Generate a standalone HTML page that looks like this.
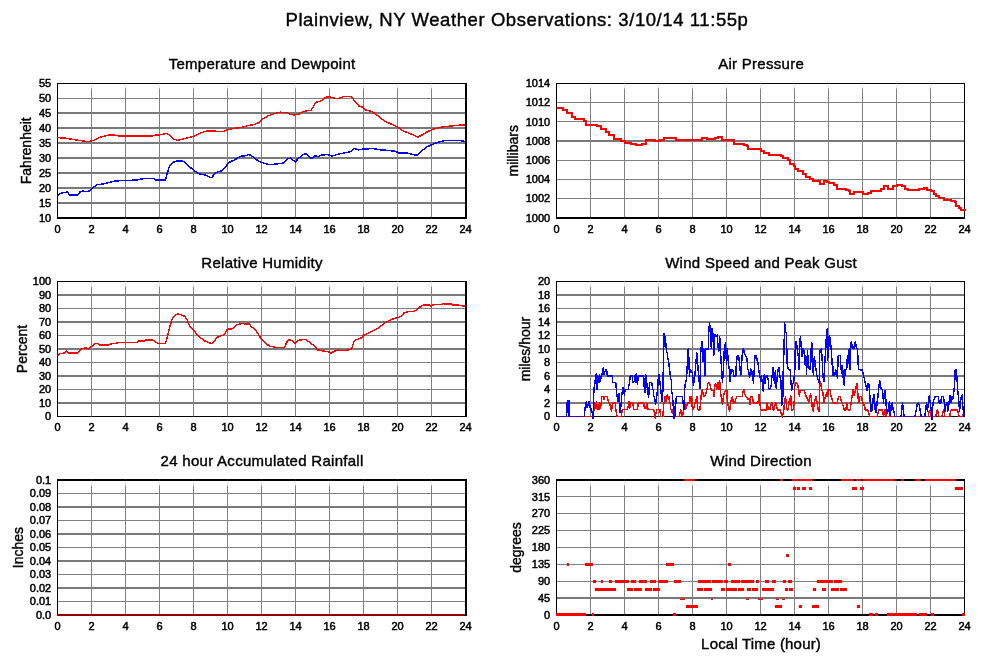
<!DOCTYPE html>
<html><head><meta charset="utf-8"><title>Plainview, NY Weather Observations</title>
<style>
html,body{margin:0;padding:0;background:#fff;}
body{width:999px;height:659px;overflow:hidden;font-family:"Liberation Sans",sans-serif;}
svg{display:block;will-change:transform;transform:translateZ(0)}
text{font-family:"Liberation Sans",sans-serif;fill:#000;stroke:#000}
.tk{font-size:11px;stroke-width:0.5px}
.pt{font-size:15px;letter-spacing:0.28px;stroke-width:0.4px}
.xl{font-size:15px;letter-spacing:0.19px;stroke-width:0.4px}
.yl{font-size:14px;stroke-width:0.4px}
.ttl{font-size:18.5px;letter-spacing:0.58px;stroke-width:0.4px}
.r2{stroke:#ff0000;fill:none;stroke-width:2;stroke-linejoin:miter;shape-rendering:crispEdges}
.g{stroke:#808080;stroke-width:1}
.ax{stroke:#000;fill:none}
.r{stroke:#ff0000;fill:none;stroke-width:1.45;stroke-linejoin:round;shape-rendering:crispEdges}
.b{stroke:#0000ff;fill:none;stroke-width:1.45;stroke-linejoin:round;shape-rendering:crispEdges}
</style></head><body>
<svg width="999" height="659" viewBox="0 0 999 659">
<rect width="999" height="659" fill="#fff"/>
<text class="ttl" x="517" y="25.8" text-anchor="middle">Plainview, NY Weather Observations: 3/10/14 11:55p</text>
<rect x="57.5" y="202" width="408" height="2" fill="#797979"/>
<rect x="57.5" y="187" width="408" height="2" fill="#797979"/>
<rect x="57.5" y="172" width="408" height="2" fill="#797979"/>
<rect x="57.5" y="157" width="408" height="2" fill="#797979"/>
<rect x="57.5" y="142" width="408" height="2" fill="#797979"/>
<rect x="57.5" y="127" width="408" height="2" fill="#797979"/>
<rect x="57.5" y="112" width="408" height="2" fill="#797979"/>
<rect x="57.5" y="98" width="408" height="1" fill="#808080"/>
<line class="g" x1="91.5" x2="91.5" y1="83.5" y2="218.0"/>
<line x1="91.5" x2="91.5" y1="84" y2="88.6" stroke="#e4e4e4" stroke-width="1"/>
<line class="g" x1="125.5" x2="125.5" y1="83.5" y2="218.0"/>
<line x1="125.5" x2="125.5" y1="84" y2="88.6" stroke="#e4e4e4" stroke-width="1"/>
<line class="g" x1="159.5" x2="159.5" y1="83.5" y2="218.0"/>
<line x1="159.5" x2="159.5" y1="84" y2="88.6" stroke="#e4e4e4" stroke-width="1"/>
<line class="g" x1="193.5" x2="193.5" y1="83.5" y2="218.0"/>
<line x1="193.5" x2="193.5" y1="84" y2="88.6" stroke="#e4e4e4" stroke-width="1"/>
<line class="g" x1="227.5" x2="227.5" y1="83.5" y2="218.0"/>
<line x1="227.5" x2="227.5" y1="84" y2="88.6" stroke="#e4e4e4" stroke-width="1"/>
<line class="g" x1="261.5" x2="261.5" y1="83.5" y2="218.0"/>
<line x1="261.5" x2="261.5" y1="84" y2="88.6" stroke="#e4e4e4" stroke-width="1"/>
<line class="g" x1="295.5" x2="295.5" y1="83.5" y2="218.0"/>
<line x1="295.5" x2="295.5" y1="84" y2="88.6" stroke="#e4e4e4" stroke-width="1"/>
<line class="g" x1="329.5" x2="329.5" y1="83.5" y2="218.0"/>
<line x1="329.5" x2="329.5" y1="84" y2="88.6" stroke="#e4e4e4" stroke-width="1"/>
<line class="g" x1="363.5" x2="363.5" y1="83.5" y2="218.0"/>
<line x1="363.5" x2="363.5" y1="84" y2="88.6" stroke="#e4e4e4" stroke-width="1"/>
<line class="g" x1="397.5" x2="397.5" y1="83.5" y2="218.0"/>
<line x1="397.5" x2="397.5" y1="84" y2="88.6" stroke="#e4e4e4" stroke-width="1"/>
<line class="g" x1="431.5" x2="431.5" y1="83.5" y2="218.0"/>
<line x1="431.5" x2="431.5" y1="84" y2="88.6" stroke="#e4e4e4" stroke-width="1"/>
<line class="ax" x1="57.0" x2="467" y1="83.5" y2="83.5" stroke-width="1"/>
<line class="ax" x1="57.0" x2="467" y1="218.0" y2="218.0" stroke-width="2"/>
<line class="ax" x1="57.5" x2="57.5" y1="83" y2="219" stroke-width="1"/>
<line class="ax" x1="466" x2="466" y1="83" y2="219" stroke-width="2"/>
<rect x="91.0" y="83" width="1" height="1" fill="#4a4a4a"/>
<rect x="91.0" y="217.5" width="1" height="1" fill="#303030"/>
<rect x="125.0" y="83" width="1" height="1" fill="#4a4a4a"/>
<rect x="125.0" y="217.5" width="1" height="1" fill="#303030"/>
<rect x="159.0" y="83" width="1" height="1" fill="#4a4a4a"/>
<rect x="159.0" y="217.5" width="1" height="1" fill="#303030"/>
<rect x="193.0" y="83" width="1" height="1" fill="#4a4a4a"/>
<rect x="193.0" y="217.5" width="1" height="1" fill="#303030"/>
<rect x="227.0" y="83" width="1" height="1" fill="#4a4a4a"/>
<rect x="227.0" y="217.5" width="1" height="1" fill="#303030"/>
<rect x="261.0" y="83" width="1" height="1" fill="#4a4a4a"/>
<rect x="261.0" y="217.5" width="1" height="1" fill="#303030"/>
<rect x="295.0" y="83" width="1" height="1" fill="#4a4a4a"/>
<rect x="295.0" y="217.5" width="1" height="1" fill="#303030"/>
<rect x="329.0" y="83" width="1" height="1" fill="#4a4a4a"/>
<rect x="329.0" y="217.5" width="1" height="1" fill="#303030"/>
<rect x="363.0" y="83" width="1" height="1" fill="#4a4a4a"/>
<rect x="363.0" y="217.5" width="1" height="1" fill="#303030"/>
<rect x="397.0" y="83" width="1" height="1" fill="#4a4a4a"/>
<rect x="397.0" y="217.5" width="1" height="1" fill="#303030"/>
<rect x="431.0" y="83" width="1" height="1" fill="#4a4a4a"/>
<rect x="431.0" y="217.5" width="1" height="1" fill="#303030"/>
<path class="b" d="M57.5,196.48 L60.05,193.79 L62.6,192.89 L66,192.15 L67.7,192.15 L69.4,194.99 L77.9,194.99 L79.6,192.15 L83,191.1 L88.1,191.7 L91.5,189.01 L96.6,184.82 L103.4,183.93 L108.5,182.73 L115.3,180.94 L125.5,180.49 L137.4,180.04 L140.8,179.14 L145.9,178.25 L152.7,178.25 L156.1,180.04 L165.45,180.04 L167.15,173.76 L169.7,165.4 L173.1,162.41 L176.5,161.21 L183.3,161.21 L186.7,164.2 L190.1,167.19 L193.5,170.18 L198.6,173.76 L205.4,174.96 L210.5,177.65 L212.2,177.05 L215.6,172.57 L222.4,170.48 L225.8,167.19 L228.35,162.71 L234.3,160.02 L241.1,156.13 L246.2,155.68 L248.75,154.34 L253,156.73 L258.1,160.91 L263.2,163 L270,164.8 L276.8,163.9 L283.6,163 L287.85,158.52 L290.4,158.22 L293.8,160.61 L295.5,162.11 L298.05,158.52 L304,154.04 L306.55,154.04 L310.8,157.92 L312.5,158.07 L315.05,155.68 L317.6,156.73 L321,155.23 L326.1,154.64 L329.5,154.93 L332.05,156.13 L338,154.19 L346.5,152.54 L351.6,151.35 L354.15,148.36 L358.4,149.85 L363.5,148.96 L373.7,148.66 L380.5,149.85 L389,150.45 L395.8,151.35 L399.2,153.14 L407.7,153.14 L414.5,154.93 L417.05,155.08 L421.3,151.35 L426.4,147.16 L433.2,144.02 L440,141.78 L445.1,140.59 L453.6,140.44 L460.4,140.59 L465.5,141.48"/>
<path class="r" d="M57.5,137.6 L66,138.2 L74.5,139.69 L83,140.89 L87.25,141.78 L93.2,140.59 L100,137.3 L108.5,135.21 L115.3,135.21 L118.7,135.95 L152.7,135.95 L155.25,135.21 L161.2,134.61 L166.3,133.41 L169.7,134.91 L173.1,138.79 L177.35,140.29 L181.6,139.39 L188.4,137.6 L193.5,136.4 L200.3,133.12 L207.1,130.87 L213.9,130.87 L219,131.62 L224.1,131.32 L227.5,129.83 L234.3,128.33 L241.1,127.44 L247.9,125.64 L254.7,124.45 L258.1,122.95 L261.5,119.67 L268.3,115.78 L275.1,113.39 L280.2,112.19 L287,112.49 L289.55,114.29 L293.8,114.88 L298.9,114.14 L302.3,111.89 L307.4,110.7 L310.8,110.7 L313.35,106.81 L315.9,102.33 L321,100.84 L326.1,97.25 L329.5,96.65 L336.3,98.74 L339.7,98.15 L343.1,96.65 L351.6,96.65 L355,101.88 L359.25,106.22 L362.65,107.11 L365.2,109.8 L372,111.6 L377.1,115.18 L383.9,120.56 L390.7,123.85 L397.5,126.84 L402.6,130.72 L409.4,133.41 L414.5,135.51 L417.9,137 L423,134.46 L428.1,131.32 L434.9,128.63 L441.7,127.14 L448.5,126.24 L457,125.34 L465.5,124.75"/>
<text class="tk" x="51.2" y="221.7" text-anchor="end">10</text>
<text class="tk" x="51.2" y="206.76" text-anchor="end">15</text>
<text class="tk" x="51.2" y="191.81" text-anchor="end">20</text>
<text class="tk" x="51.2" y="176.87" text-anchor="end">25</text>
<text class="tk" x="51.2" y="161.92" text-anchor="end">30</text>
<text class="tk" x="51.2" y="146.98" text-anchor="end">35</text>
<text class="tk" x="51.2" y="132.03" text-anchor="end">40</text>
<text class="tk" x="51.2" y="117.09" text-anchor="end">45</text>
<text class="tk" x="51.2" y="102.14" text-anchor="end">50</text>
<text class="tk" x="51.2" y="87.2" text-anchor="end">55</text>
<text class="tk" x="57.5" y="232.8" text-anchor="middle">0</text>
<text class="tk" x="91.5" y="232.8" text-anchor="middle">2</text>
<text class="tk" x="125.5" y="232.8" text-anchor="middle">4</text>
<text class="tk" x="159.5" y="232.8" text-anchor="middle">6</text>
<text class="tk" x="193.5" y="232.8" text-anchor="middle">8</text>
<text class="tk" x="227.5" y="232.8" text-anchor="middle">10</text>
<text class="tk" x="261.5" y="232.8" text-anchor="middle">12</text>
<text class="tk" x="295.5" y="232.8" text-anchor="middle">14</text>
<text class="tk" x="329.5" y="232.8" text-anchor="middle">16</text>
<text class="tk" x="363.5" y="232.8" text-anchor="middle">18</text>
<text class="tk" x="397.5" y="232.8" text-anchor="middle">20</text>
<text class="tk" x="431.5" y="232.8" text-anchor="middle">22</text>
<text class="tk" x="465.5" y="232.8" text-anchor="middle">24</text>
<text class="pt" x="262.1" y="68.8" text-anchor="middle">Temperature and Dewpoint</text>
<text class="yl" transform="translate(31.2,150.75) rotate(-90)" text-anchor="middle">Fahrenheit</text>
<rect x="556.5" y="198" width="408" height="1" fill="#808080"/>
<rect x="556.5" y="179" width="408" height="1" fill="#808080"/>
<rect x="556.5" y="160" width="408" height="1" fill="#808080"/>
<rect x="556.5" y="140" width="408" height="2" fill="#797979"/>
<rect x="556.5" y="121" width="408" height="1" fill="#808080"/>
<rect x="556.5" y="102" width="408" height="1" fill="#808080"/>
<line class="g" x1="590.5" x2="590.5" y1="83.5" y2="218.0"/>
<line x1="590.5" x2="590.5" y1="84" y2="88.6" stroke="#e4e4e4" stroke-width="1"/>
<line class="g" x1="624.5" x2="624.5" y1="83.5" y2="218.0"/>
<line x1="624.5" x2="624.5" y1="84" y2="88.6" stroke="#e4e4e4" stroke-width="1"/>
<line class="g" x1="658.5" x2="658.5" y1="83.5" y2="218.0"/>
<line x1="658.5" x2="658.5" y1="84" y2="88.6" stroke="#e4e4e4" stroke-width="1"/>
<line class="g" x1="692.5" x2="692.5" y1="83.5" y2="218.0"/>
<line x1="692.5" x2="692.5" y1="84" y2="88.6" stroke="#e4e4e4" stroke-width="1"/>
<line class="g" x1="726.5" x2="726.5" y1="83.5" y2="218.0"/>
<line x1="726.5" x2="726.5" y1="84" y2="88.6" stroke="#e4e4e4" stroke-width="1"/>
<line class="g" x1="760.5" x2="760.5" y1="83.5" y2="218.0"/>
<line x1="760.5" x2="760.5" y1="84" y2="88.6" stroke="#e4e4e4" stroke-width="1"/>
<line class="g" x1="794.5" x2="794.5" y1="83.5" y2="218.0"/>
<line x1="794.5" x2="794.5" y1="84" y2="88.6" stroke="#e4e4e4" stroke-width="1"/>
<line class="g" x1="828.5" x2="828.5" y1="83.5" y2="218.0"/>
<line x1="828.5" x2="828.5" y1="84" y2="88.6" stroke="#e4e4e4" stroke-width="1"/>
<line class="g" x1="862.5" x2="862.5" y1="83.5" y2="218.0"/>
<line x1="862.5" x2="862.5" y1="84" y2="88.6" stroke="#e4e4e4" stroke-width="1"/>
<line class="g" x1="896.5" x2="896.5" y1="83.5" y2="218.0"/>
<line x1="896.5" x2="896.5" y1="84" y2="88.6" stroke="#e4e4e4" stroke-width="1"/>
<line class="g" x1="930.5" x2="930.5" y1="83.5" y2="218.0"/>
<line x1="930.5" x2="930.5" y1="84" y2="88.6" stroke="#e4e4e4" stroke-width="1"/>
<line class="ax" x1="556.0" x2="965" y1="83.5" y2="83.5" stroke-width="1"/>
<line class="ax" x1="556.0" x2="965" y1="218.0" y2="218.0" stroke-width="2"/>
<line class="ax" x1="556.5" x2="556.5" y1="83" y2="219" stroke-width="1"/>
<line class="ax" x1="964.5" x2="964.5" y1="83" y2="219" stroke-width="1"/>
<rect x="590.0" y="83" width="1" height="1" fill="#4a4a4a"/>
<rect x="590.0" y="217.5" width="1" height="1" fill="#303030"/>
<rect x="624.0" y="83" width="1" height="1" fill="#4a4a4a"/>
<rect x="624.0" y="217.5" width="1" height="1" fill="#303030"/>
<rect x="658.0" y="83" width="1" height="1" fill="#4a4a4a"/>
<rect x="658.0" y="217.5" width="1" height="1" fill="#303030"/>
<rect x="692.0" y="83" width="1" height="1" fill="#4a4a4a"/>
<rect x="692.0" y="217.5" width="1" height="1" fill="#303030"/>
<rect x="726.0" y="83" width="1" height="1" fill="#4a4a4a"/>
<rect x="726.0" y="217.5" width="1" height="1" fill="#303030"/>
<rect x="760.0" y="83" width="1" height="1" fill="#4a4a4a"/>
<rect x="760.0" y="217.5" width="1" height="1" fill="#303030"/>
<rect x="794.0" y="83" width="1" height="1" fill="#4a4a4a"/>
<rect x="794.0" y="217.5" width="1" height="1" fill="#303030"/>
<rect x="828.0" y="83" width="1" height="1" fill="#4a4a4a"/>
<rect x="828.0" y="217.5" width="1" height="1" fill="#303030"/>
<rect x="862.0" y="83" width="1" height="1" fill="#4a4a4a"/>
<rect x="862.0" y="217.5" width="1" height="1" fill="#303030"/>
<rect x="896.0" y="83" width="1" height="1" fill="#4a4a4a"/>
<rect x="896.0" y="217.5" width="1" height="1" fill="#303030"/>
<rect x="930.0" y="83" width="1" height="1" fill="#4a4a4a"/>
<rect x="930.0" y="217.5" width="1" height="1" fill="#303030"/>
<path class="r2" d="M556.5,108 H563.3 V110.4 H566.7 V113.28 H571.8 V116.64 H575.2 V118.57 H583.7 V120.97 H586.25 V124.81 H597.3 V125.77 H600.7 V128.65 H605.8 V132.02 H609.2 V135.38 H614.3 V138.74 H621.1 V140.66 H624.5 V143.06 H631.3 V144.02 H636.4 V145.47 H640.65 V145.47 H641.5 V143.54 H644.9 V143.54 H645.75 V140.18 H653.4 V140.18 H655.1 V141.14 H658.5 V141.14 H660.2 V139.7 H663.6 V138.26 H673.8 V138.26 H675.5 V140.18 H692.5 V140.18 H701 V140.18 H701.85 V137.97 H706.1 V137.97 H706.95 V139.22 H712.9 V139.22 H714.6 V137.97 H718 V137.3 H721.4 V137.3 H722.25 V139.7 H729.9 V140.18 H734.15 V144.02 H743.5 V144.51 H746.9 V145.95 H747.75 V149.31 H752 V149.31 H753.7 V148.83 H758.8 V149.31 H760.5 V150.75 H763.9 V152.67 H769 V155.07 H780.9 V155.55 H782.6 V157.96 H787.7 V160.36 H790.25 V164.2 H793.65 V165.64 H794.5 V169.48 H797.9 V171.41 H803 V173.81 H806.4 V176.69 H809.8 V179.09 H813.2 V180.53 H818.3 V181.49 H820 V184.38 H823.4 V184.38 H824.25 V181.49 H826.8 V181.97 H828.5 V182.93 H833.6 V184.86 H837 V189.18 H845.5 V189.66 H848.9 V190.62 H849.75 V194.46 H853.15 V194.46 H854 V191.58 H860.8 V191.58 H862.5 V193.5 H864.2 V194.46 H867.6 V193.02 H871 V191.1 H877.8 V190.62 H881.2 V189.18 H883.75 V186.3 H887.15 V186.3 H888 V188.7 H891.4 V188.7 H893.1 V186.3 H896.5 V185.34 H901.6 V185.82 H905 V189.18 H908.4 V190.14 H916.9 V190.14 H918.6 V188.7 H923.7 V187.74 H927.1 V190.14 H930.5 V191.1 H933.9 V193.98 H935.6 V195.9 H939 V198.31 H944.1 V199.75 H950.9 V200.71 H955.15 V201.67 H956 V205.51 H959.4 V207.91 H961.1 V210.31 H964.5 V210.79"/>
<text class="tk" x="550.2" y="221.7" text-anchor="end">1000</text>
<text class="tk" x="550.2" y="202.49" text-anchor="end">1002</text>
<text class="tk" x="550.2" y="183.27" text-anchor="end">1004</text>
<text class="tk" x="550.2" y="164.06" text-anchor="end">1006</text>
<text class="tk" x="550.2" y="144.84" text-anchor="end">1008</text>
<text class="tk" x="550.2" y="125.63" text-anchor="end">1010</text>
<text class="tk" x="550.2" y="106.41" text-anchor="end">1012</text>
<text class="tk" x="550.2" y="87.2" text-anchor="end">1014</text>
<text class="tk" x="556.5" y="232.8" text-anchor="middle">0</text>
<text class="tk" x="590.5" y="232.8" text-anchor="middle">2</text>
<text class="tk" x="624.5" y="232.8" text-anchor="middle">4</text>
<text class="tk" x="658.5" y="232.8" text-anchor="middle">6</text>
<text class="tk" x="692.5" y="232.8" text-anchor="middle">8</text>
<text class="tk" x="726.5" y="232.8" text-anchor="middle">10</text>
<text class="tk" x="760.5" y="232.8" text-anchor="middle">12</text>
<text class="tk" x="794.5" y="232.8" text-anchor="middle">14</text>
<text class="tk" x="828.5" y="232.8" text-anchor="middle">16</text>
<text class="tk" x="862.5" y="232.8" text-anchor="middle">18</text>
<text class="tk" x="896.5" y="232.8" text-anchor="middle">20</text>
<text class="tk" x="930.5" y="232.8" text-anchor="middle">22</text>
<text class="tk" x="964.5" y="232.8" text-anchor="middle">24</text>
<text class="pt" x="761.1" y="68.8" text-anchor="middle">Air Pressure</text>
<text class="yl" transform="translate(518.2,150.75) rotate(-90)" text-anchor="middle">millibars</text>
<rect x="57.5" y="402" width="408" height="2" fill="#797979"/>
<rect x="57.5" y="389" width="408" height="1" fill="#808080"/>
<rect x="57.5" y="375" width="408" height="2" fill="#797979"/>
<rect x="57.5" y="362" width="408" height="1" fill="#808080"/>
<rect x="57.5" y="348" width="408" height="2" fill="#797979"/>
<rect x="57.5" y="335" width="408" height="1" fill="#808080"/>
<rect x="57.5" y="321" width="408" height="2" fill="#797979"/>
<rect x="57.5" y="308" width="408" height="1" fill="#808080"/>
<rect x="57.5" y="294" width="408" height="2" fill="#797979"/>
<line class="g" x1="91.5" x2="91.5" y1="281.5" y2="416.5"/>
<line x1="91.5" x2="91.5" y1="282" y2="286.6" stroke="#e4e4e4" stroke-width="1"/>
<line class="g" x1="125.5" x2="125.5" y1="281.5" y2="416.5"/>
<line x1="125.5" x2="125.5" y1="282" y2="286.6" stroke="#e4e4e4" stroke-width="1"/>
<line class="g" x1="159.5" x2="159.5" y1="281.5" y2="416.5"/>
<line x1="159.5" x2="159.5" y1="282" y2="286.6" stroke="#e4e4e4" stroke-width="1"/>
<line class="g" x1="193.5" x2="193.5" y1="281.5" y2="416.5"/>
<line x1="193.5" x2="193.5" y1="282" y2="286.6" stroke="#e4e4e4" stroke-width="1"/>
<line class="g" x1="227.5" x2="227.5" y1="281.5" y2="416.5"/>
<line x1="227.5" x2="227.5" y1="282" y2="286.6" stroke="#e4e4e4" stroke-width="1"/>
<line class="g" x1="261.5" x2="261.5" y1="281.5" y2="416.5"/>
<line x1="261.5" x2="261.5" y1="282" y2="286.6" stroke="#e4e4e4" stroke-width="1"/>
<line class="g" x1="295.5" x2="295.5" y1="281.5" y2="416.5"/>
<line x1="295.5" x2="295.5" y1="282" y2="286.6" stroke="#e4e4e4" stroke-width="1"/>
<line class="g" x1="329.5" x2="329.5" y1="281.5" y2="416.5"/>
<line x1="329.5" x2="329.5" y1="282" y2="286.6" stroke="#e4e4e4" stroke-width="1"/>
<line class="g" x1="363.5" x2="363.5" y1="281.5" y2="416.5"/>
<line x1="363.5" x2="363.5" y1="282" y2="286.6" stroke="#e4e4e4" stroke-width="1"/>
<line class="g" x1="397.5" x2="397.5" y1="281.5" y2="416.5"/>
<line x1="397.5" x2="397.5" y1="282" y2="286.6" stroke="#e4e4e4" stroke-width="1"/>
<line class="g" x1="431.5" x2="431.5" y1="281.5" y2="416.5"/>
<line x1="431.5" x2="431.5" y1="282" y2="286.6" stroke="#e4e4e4" stroke-width="1"/>
<line class="ax" x1="57.0" x2="467" y1="281.5" y2="281.5" stroke-width="1"/>
<line class="ax" x1="57.0" x2="467" y1="416.5" y2="416.5" stroke-width="1"/>
<line class="ax" x1="57.5" x2="57.5" y1="281" y2="417" stroke-width="1"/>
<line class="ax" x1="466" x2="466" y1="281" y2="417" stroke-width="2"/>
<rect x="91.0" y="281" width="1" height="1" fill="#4a4a4a"/>
<rect x="91.0" y="416" width="1" height="1" fill="#303030"/>
<rect x="125.0" y="281" width="1" height="1" fill="#4a4a4a"/>
<rect x="125.0" y="416" width="1" height="1" fill="#303030"/>
<rect x="159.0" y="281" width="1" height="1" fill="#4a4a4a"/>
<rect x="159.0" y="416" width="1" height="1" fill="#303030"/>
<rect x="193.0" y="281" width="1" height="1" fill="#4a4a4a"/>
<rect x="193.0" y="416" width="1" height="1" fill="#303030"/>
<rect x="227.0" y="281" width="1" height="1" fill="#4a4a4a"/>
<rect x="227.0" y="416" width="1" height="1" fill="#303030"/>
<rect x="261.0" y="281" width="1" height="1" fill="#4a4a4a"/>
<rect x="261.0" y="416" width="1" height="1" fill="#303030"/>
<rect x="295.0" y="281" width="1" height="1" fill="#4a4a4a"/>
<rect x="295.0" y="416" width="1" height="1" fill="#303030"/>
<rect x="329.0" y="281" width="1" height="1" fill="#4a4a4a"/>
<rect x="329.0" y="416" width="1" height="1" fill="#303030"/>
<rect x="363.0" y="281" width="1" height="1" fill="#4a4a4a"/>
<rect x="363.0" y="416" width="1" height="1" fill="#303030"/>
<rect x="397.0" y="281" width="1" height="1" fill="#4a4a4a"/>
<rect x="397.0" y="416" width="1" height="1" fill="#303030"/>
<rect x="431.0" y="281" width="1" height="1" fill="#4a4a4a"/>
<rect x="431.0" y="416" width="1" height="1" fill="#303030"/>
<path class="r" d="M57.5,355.75 L60.05,353.73 L64.3,353.05 L66.85,350.89 L68.55,353.05 L77.9,353.05 L80.45,349.81 L83,348.32 L86.4,347.92 L88.1,349 L90.65,346.7 L93.2,345.76 L94.9,343.74 L98.3,343.74 L100,345.22 L108.5,345.22 L110.2,344.14 L117,343.06 L118.7,342.38 L137.4,342.38 L139.1,340.9 L144.2,340.9 L145.9,339.82 L152.7,339.82 L156.1,342.38 L158.65,343.46 L165.45,343.46 L167.15,337.8 L169.7,327.13 L172.25,318.62 L174.8,315.38 L178.2,313.9 L181.6,314.98 L185,316.47 L187.55,320.78 L190.1,326.73 L193.5,330.1 L198.6,336.18 L203.7,340.36 L208.8,342.79 L212.2,343.6 L217.3,337.25 L224.1,334.69 L227.5,329.29 L232.6,328.75 L236,325.11 L241.1,323.62 L249.6,324.02 L251.3,326.73 L254.7,328.75 L258.1,334.01 L261.5,339.28 L266.6,344.14 L270,346.3 L276.8,347.51 L284.45,347.51 L287,341.98 L288.7,339.95 L292.1,340.36 L295.5,343.6 L298.05,340.36 L305.7,339.28 L309.1,341.98 L314.2,345.76 L317.6,349.81 L322.7,350.89 L327.8,351.56 L329.5,352.24 L331.2,353.05 L334.6,351.16 L338,349.68 L339.7,350.49 L346.5,350.49 L351.6,348.73 L354.15,340.9 L356.7,339.55 L361.8,337.8 L363.5,335.23 L368.6,332.94 L373.7,330.37 L378.8,327.67 L383.9,323.62 L387.3,321.46 L392.4,319.17 L397.5,317.68 L400.9,316.6 L404.3,312.69 L407.7,311.74 L414.5,311.2 L417.9,308.77 L421.3,305.94 L423.85,304.86 L428.95,304.86 L430.65,306.34 L432.35,304.86 L441.7,304.45 L443.4,303.5 L445.1,304.05 L451.05,303.91 L452.75,304.86 L458.7,305.12 L462.1,305.8 L465.5,305.94"/>
<text class="tk" x="51.2" y="420.2" text-anchor="end">0</text>
<text class="tk" x="51.2" y="406.7" text-anchor="end">10</text>
<text class="tk" x="51.2" y="393.2" text-anchor="end">20</text>
<text class="tk" x="51.2" y="379.7" text-anchor="end">30</text>
<text class="tk" x="51.2" y="366.2" text-anchor="end">40</text>
<text class="tk" x="51.2" y="352.7" text-anchor="end">50</text>
<text class="tk" x="51.2" y="339.2" text-anchor="end">60</text>
<text class="tk" x="51.2" y="325.7" text-anchor="end">70</text>
<text class="tk" x="51.2" y="312.2" text-anchor="end">80</text>
<text class="tk" x="51.2" y="298.7" text-anchor="end">90</text>
<text class="tk" x="51.2" y="285.2" text-anchor="end">100</text>
<text class="tk" x="57.5" y="431.3" text-anchor="middle">0</text>
<text class="tk" x="91.5" y="431.3" text-anchor="middle">2</text>
<text class="tk" x="125.5" y="431.3" text-anchor="middle">4</text>
<text class="tk" x="159.5" y="431.3" text-anchor="middle">6</text>
<text class="tk" x="193.5" y="431.3" text-anchor="middle">8</text>
<text class="tk" x="227.5" y="431.3" text-anchor="middle">10</text>
<text class="tk" x="261.5" y="431.3" text-anchor="middle">12</text>
<text class="tk" x="295.5" y="431.3" text-anchor="middle">14</text>
<text class="tk" x="329.5" y="431.3" text-anchor="middle">16</text>
<text class="tk" x="363.5" y="431.3" text-anchor="middle">18</text>
<text class="tk" x="397.5" y="431.3" text-anchor="middle">20</text>
<text class="tk" x="431.5" y="431.3" text-anchor="middle">22</text>
<text class="tk" x="465.5" y="431.3" text-anchor="middle">24</text>
<text class="pt" x="262.1" y="267.6" text-anchor="middle">Relative Humidity</text>
<text class="yl" transform="translate(27.0,349) rotate(-90)" text-anchor="middle">Percent</text>
<rect x="556.5" y="402" width="408" height="2" fill="#797979"/>
<rect x="556.5" y="389" width="408" height="1" fill="#808080"/>
<rect x="556.5" y="375" width="408" height="2" fill="#797979"/>
<rect x="556.5" y="362" width="408" height="1" fill="#808080"/>
<rect x="556.5" y="348" width="408" height="2" fill="#797979"/>
<rect x="556.5" y="335" width="408" height="1" fill="#808080"/>
<rect x="556.5" y="321" width="408" height="2" fill="#797979"/>
<rect x="556.5" y="308" width="408" height="1" fill="#808080"/>
<rect x="556.5" y="294" width="408" height="2" fill="#797979"/>
<line class="g" x1="590.5" x2="590.5" y1="281.5" y2="416.5"/>
<line x1="590.5" x2="590.5" y1="282" y2="286.6" stroke="#e4e4e4" stroke-width="1"/>
<line class="g" x1="624.5" x2="624.5" y1="281.5" y2="416.5"/>
<line x1="624.5" x2="624.5" y1="282" y2="286.6" stroke="#e4e4e4" stroke-width="1"/>
<line class="g" x1="658.5" x2="658.5" y1="281.5" y2="416.5"/>
<line x1="658.5" x2="658.5" y1="282" y2="286.6" stroke="#e4e4e4" stroke-width="1"/>
<line class="g" x1="692.5" x2="692.5" y1="281.5" y2="416.5"/>
<line x1="692.5" x2="692.5" y1="282" y2="286.6" stroke="#e4e4e4" stroke-width="1"/>
<line class="g" x1="726.5" x2="726.5" y1="281.5" y2="416.5"/>
<line x1="726.5" x2="726.5" y1="282" y2="286.6" stroke="#e4e4e4" stroke-width="1"/>
<line class="g" x1="760.5" x2="760.5" y1="281.5" y2="416.5"/>
<line x1="760.5" x2="760.5" y1="282" y2="286.6" stroke="#e4e4e4" stroke-width="1"/>
<line class="g" x1="794.5" x2="794.5" y1="281.5" y2="416.5"/>
<line x1="794.5" x2="794.5" y1="282" y2="286.6" stroke="#e4e4e4" stroke-width="1"/>
<line class="g" x1="828.5" x2="828.5" y1="281.5" y2="416.5"/>
<line x1="828.5" x2="828.5" y1="282" y2="286.6" stroke="#e4e4e4" stroke-width="1"/>
<line class="g" x1="862.5" x2="862.5" y1="281.5" y2="416.5"/>
<line x1="862.5" x2="862.5" y1="282" y2="286.6" stroke="#e4e4e4" stroke-width="1"/>
<line class="g" x1="896.5" x2="896.5" y1="281.5" y2="416.5"/>
<line x1="896.5" x2="896.5" y1="282" y2="286.6" stroke="#e4e4e4" stroke-width="1"/>
<line class="g" x1="930.5" x2="930.5" y1="281.5" y2="416.5"/>
<line x1="930.5" x2="930.5" y1="282" y2="286.6" stroke="#e4e4e4" stroke-width="1"/>
<line class="ax" x1="556.0" x2="965" y1="281.5" y2="281.5" stroke-width="1"/>
<line class="ax" x1="556.0" x2="965" y1="416.5" y2="416.5" stroke-width="1"/>
<line class="ax" x1="556.5" x2="556.5" y1="281" y2="417" stroke-width="1"/>
<line class="ax" x1="964.5" x2="964.5" y1="281" y2="417" stroke-width="1"/>
<rect x="590.0" y="281" width="1" height="1" fill="#4a4a4a"/>
<rect x="590.0" y="416" width="1" height="1" fill="#303030"/>
<rect x="624.0" y="281" width="1" height="1" fill="#4a4a4a"/>
<rect x="624.0" y="416" width="1" height="1" fill="#303030"/>
<rect x="658.0" y="281" width="1" height="1" fill="#4a4a4a"/>
<rect x="658.0" y="416" width="1" height="1" fill="#303030"/>
<rect x="692.0" y="281" width="1" height="1" fill="#4a4a4a"/>
<rect x="692.0" y="416" width="1" height="1" fill="#303030"/>
<rect x="726.0" y="281" width="1" height="1" fill="#4a4a4a"/>
<rect x="726.0" y="416" width="1" height="1" fill="#303030"/>
<rect x="760.0" y="281" width="1" height="1" fill="#4a4a4a"/>
<rect x="760.0" y="416" width="1" height="1" fill="#303030"/>
<rect x="794.0" y="281" width="1" height="1" fill="#4a4a4a"/>
<rect x="794.0" y="416" width="1" height="1" fill="#303030"/>
<rect x="828.0" y="281" width="1" height="1" fill="#4a4a4a"/>
<rect x="828.0" y="416" width="1" height="1" fill="#303030"/>
<rect x="862.0" y="281" width="1" height="1" fill="#4a4a4a"/>
<rect x="862.0" y="416" width="1" height="1" fill="#303030"/>
<rect x="896.0" y="281" width="1" height="1" fill="#4a4a4a"/>
<rect x="896.0" y="416" width="1" height="1" fill="#303030"/>
<rect x="930.0" y="281" width="1" height="1" fill="#4a4a4a"/>
<rect x="930.0" y="416" width="1" height="1" fill="#303030"/>
<path class="r" d="M556.5,416.5 H574.95 V416.5 H593.39 L593.9,409.75 L594.92,403 L595.77,408.4 L596.45,401.65 L597.3,409.75 L597.98,404.35 L598.83,409.75 L599.68,403 L600.36,408.4 L601.21,403 L601.89,396.25 H602.65 V396.25 H603.42 L604.27,399.62 L604.95,396.25 H606.14 V396.25 H607.33 L608.35,401.65 L609.37,403 L610.39,406.38 L611.58,411.1 L612.43,403 H613.79 V403 H615.15 L615.83,409.75 L617.02,416.5 H619.14 V416.5 H621.27 L622.29,409.75 H624.84 V409.75 H627.39 L628.24,406.38 L628.92,401.65 L629.77,408.4 L630.45,403 H631.64 V403 H632.83 L633.68,409.75 H635.55 V409.75 H637.42 L638.27,403 H640.99 V403 H643.71 L644.39,408.4 H645.15 V408.4 H645.92 L646.77,403 L647.45,406.38 L648.3,409.75 H651.02 V409.75 H653.74 L654.42,413.12 L655.27,417.85 L655.95,413.12 L656.8,409.75 H658.33 V409.75 H659.86 L660.71,416.5 H661.82 V416.5 H662.92 L663.77,403 H664.53 V396.25 H665.3 L666.15,401.65 L666.83,396.25 L667.68,394.9 L668.36,399.62 L669.21,396.25 L669.89,403 H670.65 V409.75 H671.42 H672.18 V413.12 H672.95 H673.8 V416.5 H674.65 H676.94 V416.5 H679.24 L679.92,413.12 L680.77,409.75 L681.45,415.15 L682.64,416.5 L683.49,409.75 L684.68,403 L685.36,409.75 L686.55,406.38 L687.74,403 H688.5 V403 H689.27 L689.95,396.25 H690.8 V396.25 H691.65 L692.33,406.38 L690.03,397.35 L691.26,397.35 L691.88,405.13 L693.12,409.8 L694.05,407.47 L694.97,402.8 L696.21,398.9 L696.83,396.57 L697.75,409.8 H698.84 V409.8 H699.92 L700.54,402.8 L701.46,392.68 L702.39,389.56 L703.32,395.79 H704.25 V395.79 H705.17 L706.1,392.68 L707.03,389.56 L707.95,383.33 H708.73 V382.56 H709.5 L710.43,386.45 L711.35,390.34 H712.28 V390.34 H713.21 L713.83,396.57 L714.75,384.89 L715.68,383.33 L716.61,389.56 L717.85,382.56 L719.08,389.56 L719.7,381 L720.63,392.68 L721.55,398.9 L722.48,404.35 L723.41,396.57 L724.34,392.68 L725.57,390.34 L726.81,390.34 L727.43,402.8 L728.66,407.47 L729.59,411.36 L730.52,403.58 L731.45,398.9 L732.37,396.57 L733.3,402.8 H734.07 V402.8 H734.85 L735.77,398.9 L737.01,396.57 H739.64 V396.57 H742.26 L742.88,392.68 L743.81,389.56 L744.74,394.23 H745.66 V396.57 H746.59 L747.83,398.9 H748.6 V398.9 H749.37 L749.99,404.35 L750.92,396.57 H751.69 V396.57 H752.46 L753.39,402.8 H755.71 V402.8 H758.03 L758.95,394.23 L759.88,402.8 L760.81,409.8 H763.67 V409.8 H766.53 L767.3,402.8 L768.23,409.8 L769.15,407.47 L770.08,409.8 L771.01,405.13 L771.94,402.8 L772.86,409.8 H773.79 V406.69 H774.72 L775.65,402.8 L776.57,406.69 L777.5,409.8 H778.74 V409.8 H779.97 L780.9,412.92 H781.67 V416.81 H782.45 L783.68,411.36 L784.61,400.46 L785.54,396.57 L786.15,402.8 L787.08,409.8 L788.32,409.8 L788.94,402.8 L789.86,398.9 L790.79,395.79 L791.41,409.8 H792.34 V409.8 H793.26 L794.19,402.8 L794.81,384.89 L795.74,382.56 H796.66 V383.33 H797.59 L798.52,389.56 L799.45,395.79 L800.06,390.34 H802.23 V390.34 H804.39 L805.32,394.23 L806.25,396.57 L807.48,398.9 L808.72,402.8 L809.65,396.57 L810.57,394.23 L811.5,398.9 L812.43,409.8 L813.35,411.36 L814.28,402.8 L815.21,398.9 L816.14,396.57 L817.06,402.8 L818.3,409.8 L819.23,411.36 L819.85,381 L820.77,383.33 L821.7,389.56 L822.94,392.68 L823.86,402.8 L824.79,398.9 L825.72,394.23 L826.65,396.57 L827.57,389.56 L828.5,392.68 L827.57,395.79 L828.5,389.56 H829.27 V389.56 H830.05 L830.97,395.79 L831.9,398.9 L832.83,402.8 H834.99 V403.26 H837.15 L838.08,398.9 L839.01,396.57 L840.25,396.57 L841.17,400.46 L842.41,403.26 L843.34,406.69 L844.26,409.8 H845.04 V409.8 H845.81 L846.74,402.8 L847.66,409.8 H848.9 V409.8 H850.14 L851.06,403.26 L851.99,396.57 L852.92,389.56 L853.85,395.79 L854.77,392.68 L855.7,389.56 L856.63,383.33 L857.55,383.33 L857.86,395.79 L858.79,402.8 L859.72,396.57 H860.65 V396.57 H861.57 L862.5,402.8 H863.43 V405.13 H864.35 L865.28,409.8 H866.52 V409.8 H867.75 L868.68,412.92 L869.92,416.5 H873.47 V416.5 H877.03 L877.95,412.92 L878.88,409.8 H880.74 V409.8 H882.59 L883.52,416.5 L884.45,409.8 L885.68,409.8 L886.3,416.5 H907.16 V416.5 H928.03 L929.26,411.36 L930.19,409.8 L931.12,416.5 H933.44 V416.5 H935.75 L936.68,411.36 L937.61,409.8 L938.54,416.5 H940.24 V416.5 H941.94 L942.86,411.36 L943.79,409.8 L944.72,416.5 H947.19 V416.5 H949.66 L950.59,411.36 L951.52,409.8 H954.45 V409.8 H957.39 L958.32,412.92 L959.25,416.5 H960.64 V416.5 H962.03 L962.95,414.48 L964.19,416.5"/>
<path class="b" d="M556.5,416.5 H561.6 V416.5 H566.7 L567.04,403 H567.72 V400.3 H568.4 H569.16 V416.5 H569.93 H577.07 V416.5 H584.21 L584.89,409.75 L585.74,403 L586.42,401.65 L587.27,407.73 L587.95,405.02 H588.63 V401.65 H589.31 L590.33,408.4 H591.1 V411.1 H591.86 L593.05,418.52 L593.9,389.5 L594.92,382.75 L596.11,373.98 L596.96,389.5 L597.81,376 L598.83,382.75 L599.68,374.65 L600.36,381.4 L601.21,377.35 L602.23,372.62 L603.25,367.9 L604.1,374.65 L605.29,370.6 H605.97 V369.25 H606.65 L607.33,376 H609.62 V376 H611.92 H612.68 V382.75 H613.45 H614.64 V382.75 H615.83 L617.02,396.25 L618.21,401.65 L618.89,393.55 H619.57 V412.45 H620.25 L621.27,403 L621.95,392.2 H622.63 V388.15 H623.31 L624.33,394.9 L625.18,389.5 H626.71 V389.5 H628.24 L629.43,382.75 L630.28,376 H631.22 V376 H632.15 L632.83,382.75 H633.6 V381.4 H634.36 L635.21,374.65 L635.89,382.75 L636.4,373.98 L637.42,384.1 L638.27,376 H640.99 V376 H643.71 L644.39,389.5 L644.9,392.88 L645.75,374.65 L646.77,382.75 L647.45,390.85 L648.64,397.6 L649.49,382.75 H650.6 V382.75 H651.7 L652.89,389.5 H653.65 V396.25 H654.42 L655.61,404.35 L656.8,396.25 L657.82,386.12 L658.5,374.65 H659.18 V381.4 H659.86 L660.71,389.5 L661.39,394.9 L662.24,401.65 L662.92,389.5 L663.43,362.5 L664.11,333.48 L664.62,345.62 L665.3,336.85 L666.15,347.65 L666.83,352.38 H667.6 V359.12 H668.36 L669.55,369.25 L670.74,379.38 H671.5 V392.88 H672.27 L673.29,406.38 H673.97 V418.52 H674.65 L675.33,409.75 L676.35,396.25 H679.33 V396.25 H682.3 L683.15,403 L683.83,409.75 L684.68,389.5 L685.36,382.75 L686.55,379.38 L687.4,362.5 L688.25,349 L688.93,359.12 L689.44,376 L690.29,369.25 L690.03,371.66 H690.8 V370.88 H691.57 L692.5,373.99 L693.43,384.89 L694.66,377.11 L695.9,363.09 L696.83,352.97 L697.75,364.65 L698.68,377.11 L699.92,388.78 L700.85,349.08 L702.08,341.29 L703.01,361.53 L703.94,349.08 L704.86,375.55 L705.48,349.08 H706.87 V349.08 H708.26 L708.57,331.95 L709.65,322.61 L710.58,338.18 L711.35,348.3 L712.13,328.84 L712.9,333.51 L713.83,355.31 L714.75,335.06 H715.53 V336.62 H716.3 L717.23,335.06 L718.15,347.52 L718.77,351.41 L719.7,336.62 L720.63,353.75 L721.55,369.32 L722.48,381.78 L723.41,369.32 L724.34,349.08 L725.57,342.85 L726.5,364.65 L727.43,349.08 L728.35,363.09 L729.28,369.32 L730.21,381.78 L731.14,369.32 H732.06 V370.1 H732.99 L733.92,376.33 H734.85 V376.33 H735.77 L736.39,363.09 L737.32,355.31 H738.01 V356.08 H738.71 L739.48,363.09 L740.72,375.55 L741.65,363.09 L742.57,349.86 L743.5,349.08 L744.43,353.75 L745.66,356.08 L746.9,358.42 L747.83,369.32 L748.75,371.66 L749.68,377.11 L750.61,368.54 L751.54,373.99 L752.46,371.66 L753.39,383.33 L754.32,369.32 L754.94,356.08 H755.71 V356.08 H756.48 L757.1,360.76 L758.03,363.09 L758.95,371.66 L759.88,376.33 L760.81,381 L761.43,375.55 L762.35,383.33 L763.28,391.12 L764.21,374.77 L765.14,383.33 L766.06,376.33 L767.3,375.55 L768.23,380.22 L768.85,388.78 H769.62 V388.78 H770.39 L771.32,384.89 L771.94,375.55 H772.71 V367.76 H773.48 L774.41,383.33 L775.34,370.88 L776.26,388.78 L777.19,377.11 L778.12,369.32 L779.05,367.76 L779.97,376.33 L780.9,380.22 L781.83,405.13 L782.75,398.9 L783.37,363.09 L783.99,350.63 L784.61,322.61 L785.54,331.95 L786.46,333.51 L787.08,363.09 L788.32,369.32 H789.25 V370.1 H790.17 L790.79,380.22 L791.72,390.34 L792.65,384.89 L793.88,380.22 L794.81,369.32 L795.43,341.29 L796.35,342.07 L797.28,349.08 L798.21,356.08 L799.14,369.32 L799.75,341.29 L800.37,336.62 L801.3,347.52 L802.23,356.86 L803.15,348.3 L804.08,351.41 L805.01,364.65 L805.94,356.08 L806.55,374.77 L807.48,350.63 L808.41,363.09 L809.34,369.32 L810.57,369.32 L811.19,349.08 L811.81,342.85 L812.74,363.09 L813.35,375.55 L814.28,356.86 L815.21,363.09 L816.14,370.88 L817.06,376.33 L818.3,380.22 L819.23,383.33 L819.85,350.63 L821.08,349.08 L822.01,356.08 L822.94,376.33 L823.86,381.78 L824.79,363.09 L825.72,349.08 L826.65,330.39 L827.57,328.84 L828.19,355.31 L827.57,359.98 L828.5,336.62 L829.74,335.84 L830.35,349.08 L831.28,345.96 L831.9,364.65 L832.52,358.42 L833.14,375.55 H833.91 V375.55 H834.68 L835.61,369.32 L836.54,371.66 L837.46,378.66 L838.08,356.86 L839.01,355.31 L840.25,356.08 L840.86,369.32 L841.79,365.43 L842.41,377.11 L843.34,370.88 L844.26,384.89 L845.19,369.32 H845.96 V369.32 H846.74 L847.35,356.08 L847.97,363.09 L848.59,353.75 L849.21,349.08 L850.14,369.32 L850.75,345.96 L851.37,341.29 L852.3,348.3 H853.07 V348.3 H853.85 L854.77,342.85 L855.39,341.29 L856.32,347.52 L857.55,349.08 L858.17,364.65 L858.79,369.32 H860.65 V370.1 H862.5 L863.43,375.55 L864.35,378.66 L865.28,383.33 L866.21,386.45 L866.83,390.34 L867.75,383.33 L868.99,384.89 L869.92,396.57 L870.85,411.36 L871.77,405.13 L872.39,409.8 L873.32,396.57 L874.25,394.23 L875.17,409.8 L876.1,412.92 L877.03,402.8 L877.95,396.57 L878.88,386.45 L879.81,381 L880.74,387.23 L881.66,389.56 L882.59,390.34 L883.52,402.8 L884.45,390.34 L885.37,391.12 L885.99,402.8 L886.61,409.8 L887.54,412.92 L888.46,408.25 L889.39,402.02 L890.32,416.81 L891.25,405.13 L892.17,402.8 L893.1,409.8 L894.03,411.36 L894.95,416.5 H898.05 V416.5 H901.14 L901.75,409.8 L902.53,402.8 L903.3,409.8 L904.07,416.5 H909.48 V416.5 H914.89 L915.97,411.36 L917.21,404.35 L918.45,403.26 L919.37,405.13 L920.3,411.36 L921.23,416.5 H923.08 V416.5 H924.94 L925.55,409.8 L926.48,402.8 L927.41,411.36 L928.34,402.8 L929.26,395.79 L930.19,402.8 L931.12,409.8 L932.05,419.15 L932.97,402.8 L934.21,398.9 L935.14,396.57 H936.68 V396.57 H938.23 L939.15,402.8 H939.93 V403.26 H940.7 L941.63,396.57 H942.55 V396.57 H943.48 L944.41,402.8 L945.03,411.36 L945.95,405.13 L946.88,402.8 L947.81,411.36 L949.05,402.8 L949.97,395.79 L950.9,402.8 L951.83,396.57 L952.75,398.9 L953.68,392.68 L954.61,384.89 L955.23,370.1 L956.15,370.1 L957.08,378.66 L957.7,390.34 L958.63,398.9 L959.55,411.36 L960.48,402.8 L961.41,395.79 L962.03,395.01 L962.65,405.13 L963.57,412.92 L964.19,416.5"/>
<rect x="556.5" y="416" width="10.2" height="1" fill="#4800a0"/>
<rect x="569.93" y="416" width="14.28" height="1" fill="#4800a0"/>
<rect x="894.95" y="416" width="6.18" height="1" fill="#4800a0"/>
<rect x="904.07" y="416" width="10.82" height="1" fill="#4800a0"/>
<rect x="921.23" y="416" width="3.71" height="1" fill="#4800a0"/>
<text class="tk" x="550.2" y="420.2" text-anchor="end">0</text>
<text class="tk" x="550.2" y="406.7" text-anchor="end">2</text>
<text class="tk" x="550.2" y="393.2" text-anchor="end">4</text>
<text class="tk" x="550.2" y="379.7" text-anchor="end">6</text>
<text class="tk" x="550.2" y="366.2" text-anchor="end">8</text>
<text class="tk" x="550.2" y="352.7" text-anchor="end">10</text>
<text class="tk" x="550.2" y="339.2" text-anchor="end">12</text>
<text class="tk" x="550.2" y="325.7" text-anchor="end">14</text>
<text class="tk" x="550.2" y="312.2" text-anchor="end">16</text>
<text class="tk" x="550.2" y="298.7" text-anchor="end">18</text>
<text class="tk" x="550.2" y="285.2" text-anchor="end">20</text>
<text class="tk" x="556.5" y="431.3" text-anchor="middle">0</text>
<text class="tk" x="590.5" y="431.3" text-anchor="middle">2</text>
<text class="tk" x="624.5" y="431.3" text-anchor="middle">4</text>
<text class="tk" x="658.5" y="431.3" text-anchor="middle">6</text>
<text class="tk" x="692.5" y="431.3" text-anchor="middle">8</text>
<text class="tk" x="726.5" y="431.3" text-anchor="middle">10</text>
<text class="tk" x="760.5" y="431.3" text-anchor="middle">12</text>
<text class="tk" x="794.5" y="431.3" text-anchor="middle">14</text>
<text class="tk" x="828.5" y="431.3" text-anchor="middle">16</text>
<text class="tk" x="862.5" y="431.3" text-anchor="middle">18</text>
<text class="tk" x="896.5" y="431.3" text-anchor="middle">20</text>
<text class="tk" x="930.5" y="431.3" text-anchor="middle">22</text>
<text class="tk" x="964.5" y="431.3" text-anchor="middle">24</text>
<text class="pt" x="761.1" y="267.6" text-anchor="middle">Wind Speed and Peak Gust</text>
<text class="yl" transform="translate(530.0,349) rotate(-90)" text-anchor="middle">miles/hour</text>
<rect x="57.5" y="601" width="408" height="1" fill="#808080"/>
<rect x="57.5" y="587" width="408" height="2" fill="#797979"/>
<rect x="57.5" y="574" width="408" height="1" fill="#808080"/>
<rect x="57.5" y="560" width="408" height="2" fill="#797979"/>
<rect x="57.5" y="547" width="408" height="1" fill="#808080"/>
<rect x="57.5" y="533" width="408" height="2" fill="#797979"/>
<rect x="57.5" y="520" width="408" height="1" fill="#808080"/>
<rect x="57.5" y="506" width="408" height="2" fill="#797979"/>
<rect x="57.5" y="493" width="408" height="1" fill="#808080"/>
<line class="g" x1="91.5" x2="91.5" y1="480.0" y2="615.0"/>
<line x1="91.5" x2="91.5" y1="481" y2="485.6" stroke="#e4e4e4" stroke-width="1"/>
<line class="g" x1="125.5" x2="125.5" y1="480.0" y2="615.0"/>
<line x1="125.5" x2="125.5" y1="481" y2="485.6" stroke="#e4e4e4" stroke-width="1"/>
<line class="g" x1="159.5" x2="159.5" y1="480.0" y2="615.0"/>
<line x1="159.5" x2="159.5" y1="481" y2="485.6" stroke="#e4e4e4" stroke-width="1"/>
<line class="g" x1="193.5" x2="193.5" y1="480.0" y2="615.0"/>
<line x1="193.5" x2="193.5" y1="481" y2="485.6" stroke="#e4e4e4" stroke-width="1"/>
<line class="g" x1="227.5" x2="227.5" y1="480.0" y2="615.0"/>
<line x1="227.5" x2="227.5" y1="481" y2="485.6" stroke="#e4e4e4" stroke-width="1"/>
<line class="g" x1="261.5" x2="261.5" y1="480.0" y2="615.0"/>
<line x1="261.5" x2="261.5" y1="481" y2="485.6" stroke="#e4e4e4" stroke-width="1"/>
<line class="g" x1="295.5" x2="295.5" y1="480.0" y2="615.0"/>
<line x1="295.5" x2="295.5" y1="481" y2="485.6" stroke="#e4e4e4" stroke-width="1"/>
<line class="g" x1="329.5" x2="329.5" y1="480.0" y2="615.0"/>
<line x1="329.5" x2="329.5" y1="481" y2="485.6" stroke="#e4e4e4" stroke-width="1"/>
<line class="g" x1="363.5" x2="363.5" y1="480.0" y2="615.0"/>
<line x1="363.5" x2="363.5" y1="481" y2="485.6" stroke="#e4e4e4" stroke-width="1"/>
<line class="g" x1="397.5" x2="397.5" y1="480.0" y2="615.0"/>
<line x1="397.5" x2="397.5" y1="481" y2="485.6" stroke="#e4e4e4" stroke-width="1"/>
<line class="g" x1="431.5" x2="431.5" y1="480.0" y2="615.0"/>
<line x1="431.5" x2="431.5" y1="481" y2="485.6" stroke="#e4e4e4" stroke-width="1"/>
<line class="ax" x1="57.0" x2="467" y1="480.0" y2="480.0" stroke-width="2"/>
<line class="ax" x1="57.0" x2="467" y1="615.0" y2="615.0" stroke-width="2"/>
<line class="ax" x1="57.5" x2="57.5" y1="479" y2="616" stroke-width="1"/>
<line class="ax" x1="466" x2="466" y1="479" y2="616" stroke-width="2"/>
<rect x="91.0" y="479.5" width="1" height="1" fill="#4a4a4a"/>
<rect x="91.0" y="614.5" width="1" height="1" fill="#303030"/>
<rect x="125.0" y="479.5" width="1" height="1" fill="#4a4a4a"/>
<rect x="125.0" y="614.5" width="1" height="1" fill="#303030"/>
<rect x="159.0" y="479.5" width="1" height="1" fill="#4a4a4a"/>
<rect x="159.0" y="614.5" width="1" height="1" fill="#303030"/>
<rect x="193.0" y="479.5" width="1" height="1" fill="#4a4a4a"/>
<rect x="193.0" y="614.5" width="1" height="1" fill="#303030"/>
<rect x="227.0" y="479.5" width="1" height="1" fill="#4a4a4a"/>
<rect x="227.0" y="614.5" width="1" height="1" fill="#303030"/>
<rect x="261.0" y="479.5" width="1" height="1" fill="#4a4a4a"/>
<rect x="261.0" y="614.5" width="1" height="1" fill="#303030"/>
<rect x="295.0" y="479.5" width="1" height="1" fill="#4a4a4a"/>
<rect x="295.0" y="614.5" width="1" height="1" fill="#303030"/>
<rect x="329.0" y="479.5" width="1" height="1" fill="#4a4a4a"/>
<rect x="329.0" y="614.5" width="1" height="1" fill="#303030"/>
<rect x="363.0" y="479.5" width="1" height="1" fill="#4a4a4a"/>
<rect x="363.0" y="614.5" width="1" height="1" fill="#303030"/>
<rect x="397.0" y="479.5" width="1" height="1" fill="#4a4a4a"/>
<rect x="397.0" y="614.5" width="1" height="1" fill="#303030"/>
<rect x="431.0" y="479.5" width="1" height="1" fill="#4a4a4a"/>
<rect x="431.0" y="614.5" width="1" height="1" fill="#303030"/>
<rect x="57" y="614" width="408" height="2" fill="#900000"/>
<text class="tk" x="51.2" y="618.7" text-anchor="end">0.0</text>
<text class="tk" x="51.2" y="605.2" text-anchor="end">0.01</text>
<text class="tk" x="51.2" y="591.7" text-anchor="end">0.02</text>
<text class="tk" x="51.2" y="578.2" text-anchor="end">0.03</text>
<text class="tk" x="51.2" y="564.7" text-anchor="end">0.04</text>
<text class="tk" x="51.2" y="551.2" text-anchor="end">0.05</text>
<text class="tk" x="51.2" y="537.7" text-anchor="end">0.06</text>
<text class="tk" x="51.2" y="524.2" text-anchor="end">0.07</text>
<text class="tk" x="51.2" y="510.7" text-anchor="end">0.08</text>
<text class="tk" x="51.2" y="497.2" text-anchor="end">0.09</text>
<text class="tk" x="51.2" y="483.7" text-anchor="end">0.1</text>
<text class="tk" x="57.5" y="629.8" text-anchor="middle">0</text>
<text class="tk" x="91.5" y="629.8" text-anchor="middle">2</text>
<text class="tk" x="125.5" y="629.8" text-anchor="middle">4</text>
<text class="tk" x="159.5" y="629.8" text-anchor="middle">6</text>
<text class="tk" x="193.5" y="629.8" text-anchor="middle">8</text>
<text class="tk" x="227.5" y="629.8" text-anchor="middle">10</text>
<text class="tk" x="261.5" y="629.8" text-anchor="middle">12</text>
<text class="tk" x="295.5" y="629.8" text-anchor="middle">14</text>
<text class="tk" x="329.5" y="629.8" text-anchor="middle">16</text>
<text class="tk" x="363.5" y="629.8" text-anchor="middle">18</text>
<text class="tk" x="397.5" y="629.8" text-anchor="middle">20</text>
<text class="tk" x="431.5" y="629.8" text-anchor="middle">22</text>
<text class="tk" x="465.5" y="629.8" text-anchor="middle">24</text>
<text class="pt" x="262.1" y="465.8" text-anchor="middle">24 hour Accumulated Rainfall</text>
<text class="yl" transform="translate(22.6,547.5) rotate(-90)" text-anchor="middle">Inches</text>
<rect x="556.5" y="597" width="408" height="2" fill="#797979"/>
<rect x="556.5" y="581" width="408" height="1" fill="#808080"/>
<rect x="556.5" y="564" width="408" height="1" fill="#808080"/>
<rect x="556.5" y="547" width="408" height="1" fill="#808080"/>
<rect x="556.5" y="530" width="408" height="1" fill="#808080"/>
<rect x="556.5" y="513" width="408" height="1" fill="#808080"/>
<rect x="556.5" y="496" width="408" height="1" fill="#808080"/>
<line class="g" x1="590.5" x2="590.5" y1="480.0" y2="615.0"/>
<line x1="590.5" x2="590.5" y1="481" y2="485.6" stroke="#e4e4e4" stroke-width="1"/>
<line class="g" x1="624.5" x2="624.5" y1="480.0" y2="615.0"/>
<line x1="624.5" x2="624.5" y1="481" y2="485.6" stroke="#e4e4e4" stroke-width="1"/>
<line class="g" x1="658.5" x2="658.5" y1="480.0" y2="615.0"/>
<line x1="658.5" x2="658.5" y1="481" y2="485.6" stroke="#e4e4e4" stroke-width="1"/>
<line class="g" x1="692.5" x2="692.5" y1="480.0" y2="615.0"/>
<line x1="692.5" x2="692.5" y1="481" y2="485.6" stroke="#e4e4e4" stroke-width="1"/>
<line class="g" x1="726.5" x2="726.5" y1="480.0" y2="615.0"/>
<line x1="726.5" x2="726.5" y1="481" y2="485.6" stroke="#e4e4e4" stroke-width="1"/>
<line class="g" x1="760.5" x2="760.5" y1="480.0" y2="615.0"/>
<line x1="760.5" x2="760.5" y1="481" y2="485.6" stroke="#e4e4e4" stroke-width="1"/>
<line class="g" x1="794.5" x2="794.5" y1="480.0" y2="615.0"/>
<line x1="794.5" x2="794.5" y1="481" y2="485.6" stroke="#e4e4e4" stroke-width="1"/>
<line class="g" x1="828.5" x2="828.5" y1="480.0" y2="615.0"/>
<line x1="828.5" x2="828.5" y1="481" y2="485.6" stroke="#e4e4e4" stroke-width="1"/>
<line class="g" x1="862.5" x2="862.5" y1="480.0" y2="615.0"/>
<line x1="862.5" x2="862.5" y1="481" y2="485.6" stroke="#e4e4e4" stroke-width="1"/>
<line class="g" x1="896.5" x2="896.5" y1="480.0" y2="615.0"/>
<line x1="896.5" x2="896.5" y1="481" y2="485.6" stroke="#e4e4e4" stroke-width="1"/>
<line class="g" x1="930.5" x2="930.5" y1="480.0" y2="615.0"/>
<line x1="930.5" x2="930.5" y1="481" y2="485.6" stroke="#e4e4e4" stroke-width="1"/>
<line class="ax" x1="556.0" x2="965" y1="480.0" y2="480.0" stroke-width="2"/>
<line class="ax" x1="556.0" x2="965" y1="615.0" y2="615.0" stroke-width="2"/>
<line class="ax" x1="556.5" x2="556.5" y1="479" y2="616" stroke-width="1"/>
<line class="ax" x1="964.5" x2="964.5" y1="479" y2="616" stroke-width="1"/>
<rect x="590.0" y="479.5" width="1" height="1" fill="#4a4a4a"/>
<rect x="590.0" y="614.5" width="1" height="1" fill="#303030"/>
<rect x="624.0" y="479.5" width="1" height="1" fill="#4a4a4a"/>
<rect x="624.0" y="614.5" width="1" height="1" fill="#303030"/>
<rect x="658.0" y="479.5" width="1" height="1" fill="#4a4a4a"/>
<rect x="658.0" y="614.5" width="1" height="1" fill="#303030"/>
<rect x="692.0" y="479.5" width="1" height="1" fill="#4a4a4a"/>
<rect x="692.0" y="614.5" width="1" height="1" fill="#303030"/>
<rect x="726.0" y="479.5" width="1" height="1" fill="#4a4a4a"/>
<rect x="726.0" y="614.5" width="1" height="1" fill="#303030"/>
<rect x="760.0" y="479.5" width="1" height="1" fill="#4a4a4a"/>
<rect x="760.0" y="614.5" width="1" height="1" fill="#303030"/>
<rect x="794.0" y="479.5" width="1" height="1" fill="#4a4a4a"/>
<rect x="794.0" y="614.5" width="1" height="1" fill="#303030"/>
<rect x="828.0" y="479.5" width="1" height="1" fill="#4a4a4a"/>
<rect x="828.0" y="614.5" width="1" height="1" fill="#303030"/>
<rect x="862.0" y="479.5" width="1" height="1" fill="#4a4a4a"/>
<rect x="862.0" y="614.5" width="1" height="1" fill="#303030"/>
<rect x="896.0" y="479.5" width="1" height="1" fill="#4a4a4a"/>
<rect x="896.0" y="614.5" width="1" height="1" fill="#303030"/>
<rect x="930.0" y="479.5" width="1" height="1" fill="#4a4a4a"/>
<rect x="930.0" y="614.5" width="1" height="1" fill="#303030"/>
<rect x="556" y="613" width="30" height="3" fill="#ff0000"/>
<rect x="592" y="613" width="2" height="3" fill="#ff0000"/>
<rect x="673" y="613" width="3" height="3" fill="#ff0000"/>
<rect x="869" y="613" width="4" height="3" fill="#ff0000"/>
<rect x="875" y="613" width="3" height="3" fill="#ff0000"/>
<rect x="887" y="613" width="6" height="3" fill="#ff0000"/>
<rect x="894" y="613" width="23" height="3" fill="#ff0000"/>
<rect x="919" y="613" width="8" height="3" fill="#ff0000"/>
<rect x="931" y="613" width="3" height="3" fill="#ff0000"/>
<rect x="962" y="613" width="3" height="3" fill="#ff0000"/>
<rect x="567" y="563" width="2" height="3" fill="#ff0000"/>
<rect x="585" y="563" width="8" height="3" fill="#ff0000"/>
<rect x="666" y="563" width="8" height="3" fill="#ff0000"/>
<rect x="728" y="563" width="3" height="3" fill="#ff0000"/>
<rect x="786" y="554" width="3" height="3" fill="#ff0000"/>
<rect x="593" y="580" width="3" height="3" fill="#ff0000"/>
<rect x="601" y="580" width="2" height="3" fill="#ff0000"/>
<rect x="609" y="580" width="3" height="3" fill="#ff0000"/>
<rect x="615" y="580" width="14" height="3" fill="#ff0000"/>
<rect x="631" y="580" width="5" height="3" fill="#ff0000"/>
<rect x="639" y="580" width="8" height="3" fill="#ff0000"/>
<rect x="650" y="580" width="6" height="3" fill="#ff0000"/>
<rect x="658" y="580" width="10" height="3" fill="#ff0000"/>
<rect x="674" y="580" width="7" height="3" fill="#ff0000"/>
<rect x="698" y="580" width="13" height="3" fill="#ff0000"/>
<rect x="712" y="580" width="11" height="3" fill="#ff0000"/>
<rect x="724" y="580" width="4" height="3" fill="#ff0000"/>
<rect x="731" y="580" width="4" height="3" fill="#ff0000"/>
<rect x="735" y="580" width="5" height="3" fill="#ff0000"/>
<rect x="741" y="580" width="7" height="3" fill="#ff0000"/>
<rect x="748" y="580" width="6" height="3" fill="#ff0000"/>
<rect x="756" y="580" width="3" height="3" fill="#ff0000"/>
<rect x="765" y="580" width="4" height="3" fill="#ff0000"/>
<rect x="772" y="580" width="4" height="3" fill="#ff0000"/>
<rect x="783" y="580" width="3" height="3" fill="#ff0000"/>
<rect x="788" y="580" width="4" height="3" fill="#ff0000"/>
<rect x="817" y="580" width="6" height="3" fill="#ff0000"/>
<rect x="823" y="580" width="10" height="3" fill="#ff0000"/>
<rect x="834" y="580" width="8" height="3" fill="#ff0000"/>
<rect x="595" y="588" width="21" height="3" fill="#ff0000"/>
<rect x="627" y="588" width="6" height="3" fill="#ff0000"/>
<rect x="634" y="588" width="8" height="3" fill="#ff0000"/>
<rect x="645" y="588" width="7" height="3" fill="#ff0000"/>
<rect x="653" y="588" width="7" height="3" fill="#ff0000"/>
<rect x="697" y="588" width="6" height="3" fill="#ff0000"/>
<rect x="704" y="588" width="8" height="3" fill="#ff0000"/>
<rect x="721" y="588" width="4" height="3" fill="#ff0000"/>
<rect x="726" y="588" width="3" height="3" fill="#ff0000"/>
<rect x="729" y="588" width="8" height="3" fill="#ff0000"/>
<rect x="738" y="588" width="6" height="3" fill="#ff0000"/>
<rect x="747" y="588" width="4" height="3" fill="#ff0000"/>
<rect x="752" y="588" width="6" height="3" fill="#ff0000"/>
<rect x="762" y="588" width="12" height="3" fill="#ff0000"/>
<rect x="785" y="588" width="3" height="3" fill="#ff0000"/>
<rect x="789" y="588" width="4" height="3" fill="#ff0000"/>
<rect x="813" y="588" width="3" height="3" fill="#ff0000"/>
<rect x="822" y="588" width="4" height="3" fill="#ff0000"/>
<rect x="831" y="588" width="8" height="3" fill="#ff0000"/>
<rect x="840" y="588" width="7" height="3" fill="#ff0000"/>
<rect x="680" y="597" width="5" height="3" fill="#ff0000"/>
<rect x="711" y="597" width="2" height="3" fill="#ff0000"/>
<rect x="746" y="597" width="3" height="3" fill="#ff0000"/>
<rect x="758" y="597" width="5" height="3" fill="#ff0000"/>
<rect x="776" y="597" width="3" height="3" fill="#ff0000"/>
<rect x="782" y="597" width="3" height="3" fill="#ff0000"/>
<rect x="686" y="605" width="12" height="3" fill="#ff0000"/>
<rect x="775" y="605" width="7" height="3" fill="#ff0000"/>
<rect x="799" y="605" width="3" height="3" fill="#ff0000"/>
<rect x="812" y="605" width="7" height="3" fill="#ff0000"/>
<rect x="857" y="605" width="3" height="3" fill="#ff0000"/>
<rect x="684" y="479" width="11" height="2" fill="#ff0000"/>
<rect x="780" y="479" width="3" height="2" fill="#ff0000"/>
<rect x="792" y="479" width="7" height="2" fill="#ff0000"/>
<rect x="800" y="479" width="13" height="2" fill="#ff0000"/>
<rect x="841" y="479" width="13" height="2" fill="#ff0000"/>
<rect x="856" y="479" width="5" height="2" fill="#ff0000"/>
<rect x="863" y="479" width="32" height="2" fill="#ff0000"/>
<rect x="901" y="479" width="3" height="2" fill="#ff0000"/>
<rect x="915" y="479" width="6" height="2" fill="#ff0000"/>
<rect x="925" y="479" width="31" height="2" fill="#ff0000"/>
<rect x="793" y="487" width="3" height="3" fill="#ff0000"/>
<rect x="797" y="487" width="3" height="3" fill="#ff0000"/>
<rect x="802" y="487" width="4" height="3" fill="#ff0000"/>
<rect x="809" y="487" width="3" height="3" fill="#ff0000"/>
<rect x="852" y="487" width="5" height="3" fill="#ff0000"/>
<rect x="860" y="487" width="4" height="3" fill="#ff0000"/>
<rect x="955" y="487" width="8" height="3" fill="#ff0000"/>
<rect x="557" y="597" width="407" height="2" fill="#797979" opacity="0.7"/>
<text class="tk" x="550.2" y="618.7" text-anchor="end">0</text>
<text class="tk" x="550.2" y="601.83" text-anchor="end">45</text>
<text class="tk" x="550.2" y="584.95" text-anchor="end">90</text>
<text class="tk" x="550.2" y="568.08" text-anchor="end">135</text>
<text class="tk" x="550.2" y="551.2" text-anchor="end">180</text>
<text class="tk" x="550.2" y="534.33" text-anchor="end">225</text>
<text class="tk" x="550.2" y="517.45" text-anchor="end">270</text>
<text class="tk" x="550.2" y="500.57" text-anchor="end">315</text>
<text class="tk" x="550.2" y="483.7" text-anchor="end">360</text>
<text class="tk" x="556.5" y="629.8" text-anchor="middle">0</text>
<text class="tk" x="590.5" y="629.8" text-anchor="middle">2</text>
<text class="tk" x="624.5" y="629.8" text-anchor="middle">4</text>
<text class="tk" x="658.5" y="629.8" text-anchor="middle">6</text>
<text class="tk" x="692.5" y="629.8" text-anchor="middle">8</text>
<text class="tk" x="726.5" y="629.8" text-anchor="middle">10</text>
<text class="tk" x="760.5" y="629.8" text-anchor="middle">12</text>
<text class="tk" x="794.5" y="629.8" text-anchor="middle">14</text>
<text class="tk" x="828.5" y="629.8" text-anchor="middle">16</text>
<text class="tk" x="862.5" y="629.8" text-anchor="middle">18</text>
<text class="tk" x="896.5" y="629.8" text-anchor="middle">20</text>
<text class="tk" x="930.5" y="629.8" text-anchor="middle">22</text>
<text class="tk" x="964.5" y="629.8" text-anchor="middle">24</text>
<text class="pt" x="761.1" y="465.8" text-anchor="middle">Wind Direction</text>
<text class="yl" transform="translate(521.4,547.5) rotate(-90)" text-anchor="middle">degrees</text>
<text class="xl" x="761.1" y="648.7" text-anchor="middle">Local Time (hour)</text>
</svg></body></html>
